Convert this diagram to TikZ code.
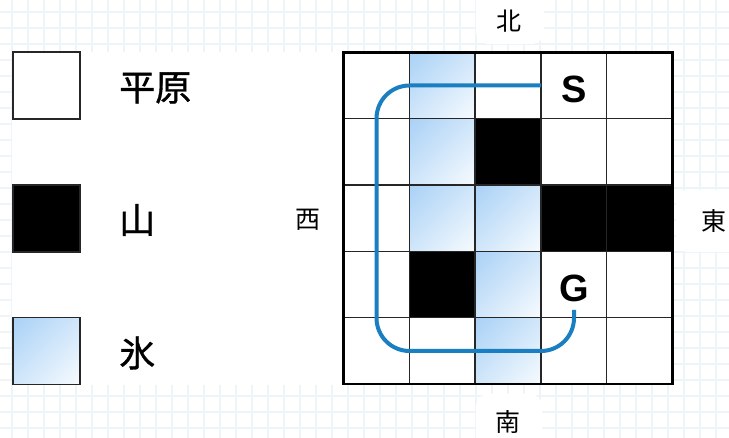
\documentclass[tikz,border=0pt]{standalone}
\usepackage{fontspec}
\usetikzlibrary{shadings}
\newfontfamily\cjk{Noto Sans CJK JP}
\newfontfamily\cjkm{Noto Sans CJK JP}[FakeBold=1]
\setsansfont{Liberation Sans}
\definecolor{bggrid}{HTML}{EDF5F8}
\definecolor{icetop}{HTML}{A9D1F6}
\definecolor{icemid}{HTML}{D0E6FA}
\definecolor{icebot}{HTML}{F7FBFE}
\definecolor{pathblue}{HTML}{1A7FC0}
\tikzset{
  icecell/.style={upper left=icetop,lower right=icebot,upper right=icemid,lower left=icemid},
  cellline/.style={draw=black!85,line width=1.4pt},
  legbox/.style={draw=black!85,line width=1.8pt},
  leglabel/.style={font=\cjkm\fontsize{36}{40}\selectfont,anchor=west,inner sep=0pt},
  dirlabel/.style={font=\cjk\fontsize{25}{27}\selectfont,inner sep=0pt},
  sglabel/.style={font=\sffamily\bfseries\fontsize{38}{40}\selectfont,inner sep=0pt},
  patch/.style={fill=white,draw=none,rounded corners=12pt},
}
\begin{document}
\begin{tikzpicture}[x=1pt,y=-1pt]
\useasboundingbox (0,0) rectangle (729,438);
\fill[white] (0,0) rectangle (729,438);
% background grid
\foreach \k in {0,...,45} {
  \draw[bggrid,line width=1.5pt] (12+16*\k,0) -- (12+16*\k,438);
}
\foreach \k in {0,...,27} {
  \draw[bggrid,line width=1.5pt] (0,12+16*\k) -- (729,12+16*\k);
}
% white areas
\fill[white] (12,52) rectangle (343,385);
\fill[patch] (476,-10) rectangle (544,44);
\fill[patch] (476,394) rectangle (542,450);
\fill[patch] (676,190) rectangle (740,252);

% main grid cells
\def\X#1{343.5+65.8*#1}
\def\Y#1{52.5+66.3*#1}
\fill[white] (343.5,52.5) rectangle (672.5,384);
% ice cells
\foreach \c/\r in {1/0,1/1,1/2,2/2,2/3,2/4} {
  \shade[icecell] ({\X{\c}},{\Y{\r}}) rectangle ({\X{\c}+65.8},{\Y{\r}+66.3});
}
% mountain cells
\foreach \c/\r in {2/1,3/2,4/2,1/3} {
  \fill[black] ({\X{\c}},{\Y{\r}}) rectangle ({\X{\c}+65.8},{\Y{\r}+66.3});
}
% grid lines
\foreach \i in {1,...,4} {
  \draw[cellline] ({\X{\i}},52.5) -- ({\X{\i}},384);
  \draw[cellline] (343.5,{\Y{\i}}) -- (672.5,{\Y{\i}});
}
\draw[black,line width=2.4pt] (343.5,52.5) rectangle (672.5,384);

% path
\coordinate (pstart) at (541,85.5);
\coordinate (pc1) at (376.5,85.5);
\coordinate (pc2) at (376.5,351);
\coordinate (pc3) at (574,351);
\coordinate (pend) at (574,310);
\draw[pathblue,line width=4pt,rounded corners=33pt] (pstart) -- (pc1) -- (pc2) -- (pc3) -- (pend);

% S and G
\node[sglabel] (S) at (574,89) {S};
\node[sglabel] (G) at (574,288) {G};

% directions
\node[dirlabel] (N) at (509,21) {北};
\node[dirlabel] (Sd) at (508,422) {南};
\node[dirlabel] (W) at (308,220) {西};
\node[dirlabel] (E) at (714,221) {東};

% legend
\node[legbox,fill=white,minimum width=67pt,minimum height=67pt,inner sep=0pt] (lp) at (46.8,85.8) {};
\node[legbox,fill=black,minimum width=67pt,minimum height=67pt,inner sep=0pt] (lm) at (46.8,218.3) {};
\shade[icecell] (13.3,317.7) rectangle (80.3,384.3);
\node[legbox,minimum width=67pt,minimum height=67pt,inner sep=0pt] (li) at (46.8,351) {};
\node[leglabel] (tp) at (119,88) {平原};
\node[leglabel] (tm) at (119,220) {山};
\node[leglabel] (ti) at (119,353) {氷};
\end{tikzpicture}
\end{document}
